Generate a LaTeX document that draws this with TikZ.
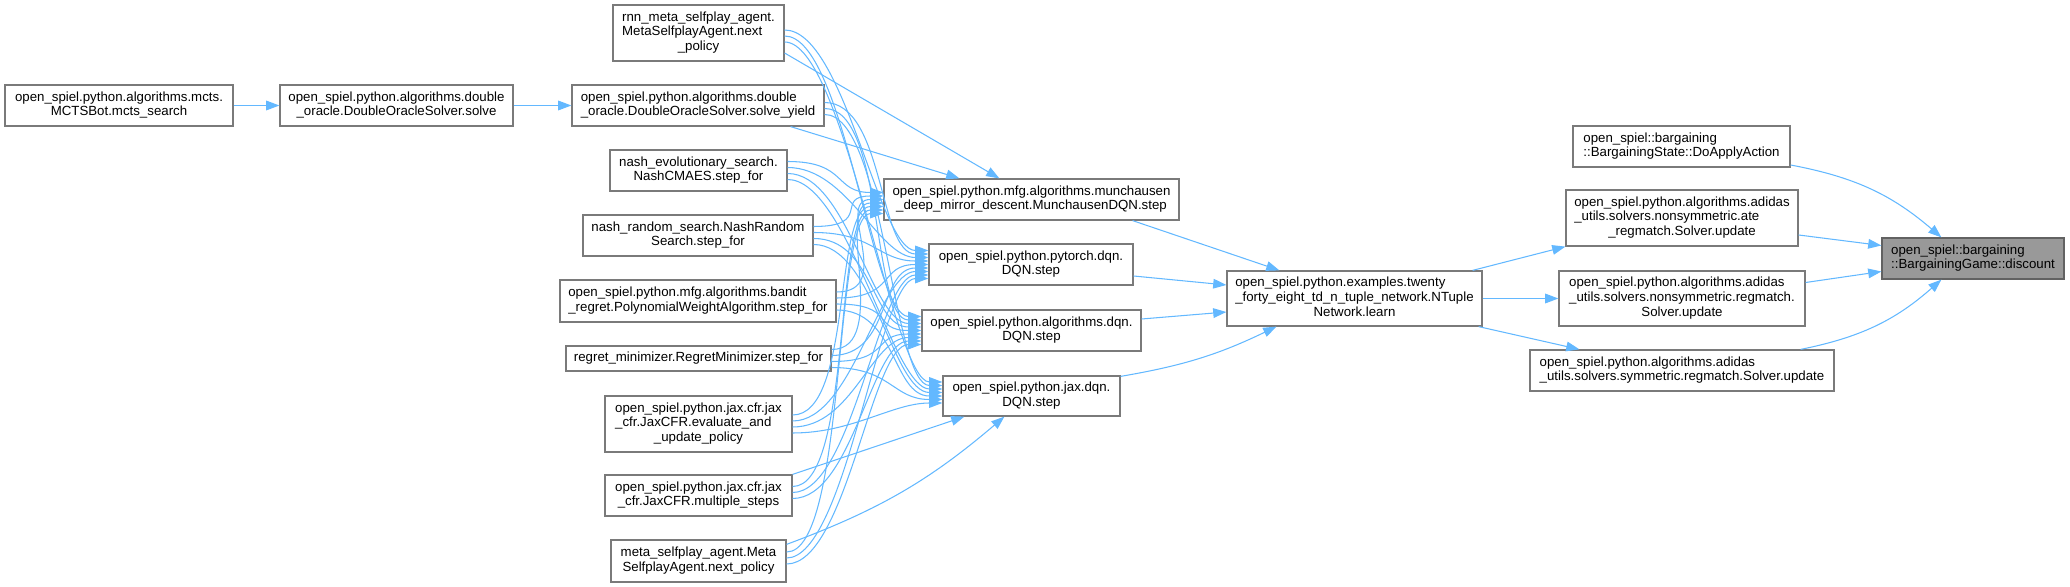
\documentclass[tikz,border=0pt]{standalone}
\usepackage{fontspec}
\setmainfont{Liberation Sans}
\usetikzlibrary{arrows.meta,calc}
\definecolor{dxedge}{HTML}{63B8FF}
\definecolor{dxgray}{HTML}{7A7A7A}
\definecolor{dxfill}{HTML}{999999}
\newcommand{\fnlines}[1]{\begin{tabular}{@{}l@{}}#1\end{tabular}}
\newcommand{\lastln}[1]{\multicolumn{1}{@{}c@{}}{#1}}

\begin{document}
\begin{tikzpicture}[
  x=0.02cm, y=-0.02cm,
  font=\fontsize{7.55}{8.5}\selectfont,
  fn/.style={draw=dxgray, line width=0.7pt, fill=white, inner sep=0pt},
  focus/.style={fn, fill=dxfill, draw=dxgray!80!black},
  sz/.style 2 args={minimum width=#1*0.02cm, minimum height=#2*0.02cm},
  arr/.style={-{Triangle[length=7.5pt,width=5.5pt]}, line width=0.6pt, dxedge},
]
\useasboundingbox (0,0) rectangle (2070,587);

% callers, far left
\node[fn, sz={228}{41}] (mcts) at (119,105.5) {\fnlines{open\_spiel.python.algorithms.mcts.\\\lastln{MCTSBot.mcts\_search}}};
\node[fn, sz={233}{41}] (solve) at (396.5,105.5) {\fnlines{open\_spiel.python.algorithms.double\\\lastln{\_oracle.DoubleOracleSolver.solve}}};

% left column
\node[fn, sz={171}{56}] (rnn) at (698.5,33) {\fnlines{rnn\_meta\_selfplay\_agent.\\MetaSelfplayAgent.next\\\lastln{\_policy}}};
\node[fn, sz={252}{41}] (yield) at (698,105.5) {\fnlines{open\_spiel.python.algorithms.double\\\lastln{\_oracle.DoubleOracleSolver.solve\_yield}}};
\node[fn, sz={177}{41}] (nevo) at (698.5,170.5) {\fnlines{nash\_evolutionary\_search.\\\lastln{NashCMAES.step\_for}}};
\node[fn, sz={230}{41}] (nrand) at (698,235.5) {\fnlines{nash\_random\_search.NashRandom\\\lastln{Search.step\_for}}};
\node[fn, sz={276}{42}] (bandit) at (698,301) {\fnlines{open\_spiel.python.mfg.algorithms.bandit\\\lastln{\_regret.PolynomialWeightAlgorithm.step\_for}}};
\node[fn, sz={265}{25}] (regmin) at (698.5,358.5) {regret\_minimizer.RegretMinimizer.step\_for};
\node[fn, sz={187}{56}] (eval) at (698.5,424) {\fnlines{open\_spiel.python.jax.cfr.jax\\\_cfr.JaxCFR.evaluate\_and\\\lastln{\_update\_policy}}};
\node[fn, sz={187}{41}] (msteps) at (698.5,495.5) {\fnlines{open\_spiel.python.jax.cfr.jax\\\lastln{\_cfr.JaxCFR.multiple\_steps}}};
\node[fn, sz={175}{42}] (meta) at (698.5,561) {\fnlines{meta\_selfplay\_agent.Meta\\\lastln{SelfplayAgent.next\_policy}}};

% dqn steps
\node[fn, sz={295}{41}] (munch) at (1031.5,199.5) {\fnlines{open\_spiel.python.mfg.algorithms.munchausen\\\lastln{\_deep\_mirror\_descent.MunchausenDQN.step}}};
\node[fn, sz={204}{41}] (torchdqn) at (1031,264.5) {\fnlines{open\_spiel.python.pytorch.dqn.\\\lastln{DQN.step}}};
\node[fn, sz={219}{41}] (algdqn) at (1031.5,330.5) {\fnlines{open\_spiel.python.algorithms.dqn.\\\lastln{DQN.step}}};
\node[fn, sz={177}{40}] (jaxdqn) at (1031.5,396) {\fnlines{open\_spiel.python.jax.dqn.\\\lastln{DQN.step}}};

\node[fn, sz={255}{55}] (learn) at (1354.5,298.5) {\fnlines{open\_spiel.python.examples.twenty\\\_forty\_eight\_td\_n\_tuple\_network.NTuple\\\lastln{Network.learn}}};

% solvers
\node[fn, sz={217}{41}] (doapply) at (1681.5,146.5) {\fnlines{open\_spiel::bargaining\\\lastln{::BargainingState::DoApplyAction}}};
\node[fn, sz={232}{56}] (ate) at (1682,218) {\fnlines{open\_spiel.python.algorithms.adidas\\\_utils.solvers.nonsymmetric.ate\\\lastln{\_regmatch.Solver.update}}};
\node[fn, sz={246}{55}] (nonsym) at (1682,298.5) {\fnlines{open\_spiel.python.algorithms.adidas\\\_utils.solvers.nonsymmetric.regmatch.\\\lastln{Solver.update}}};
\node[fn, sz={304}{41}] (sym) at (1682,370.5) {\fnlines{open\_spiel.python.algorithms.adidas\\\lastln{\_utils.solvers.symmetric.regmatch.Solver.update}}};

\node[focus, sz={182}{41}] (discount) at (1973,258.5) {\fnlines{open\_spiel::bargaining\\\lastln{::BargainingGame::discount}}};

\draw[arr] (mcts) -- (solve);
\draw[arr] (solve) -- (yield);
% every caller reaches every dqn step; four of them come in from top / bottom
\foreach \s [count=\i] in {rnn,yield,nevo,nrand,bandit,regmin,eval,msteps,meta}
  \foreach \t [count=\j] in {munch,torchdqn,algdqn,jaxdqn} {
    \ifnum\i\j=11 \else\ifnum\i\j=21 \else\ifnum\i\j=84 \else\ifnum\i\j=94 \else
    \draw[arr] ($(\s.east)+(0,{(\j-2.5)*6})$) .. controls +(60,0) and +(-50,0) .. ($(\t.west)+(0,{(\i-5)*3.5})$);
    \fi\fi\fi\fi
  }
\draw[arr] ($(rnn.east)+(0,20)$) -- ($(munch.north west)+(116,0)$);
\draw[arr] ($(yield.south east)+(-34,0)$) -- ($(munch.north west)+(76,0)$);
\draw[arr] (msteps.north east) -- ($(jaxdqn.south west)+(22,0)$);
\draw[arr] ($(meta.north east)+(0,5)$) to[bend right=10] ($(jaxdqn.south west)+(62,0)$);

\draw[arr] ($(munch.south east)+(-47,0)$) -- ($(learn.north west)+(53,0)$);
\draw[arr] ($(torchdqn.east)+(0,11.5)$) -- ($(learn.west)+(0,-13.5)$);
\draw[arr] ($(algdqn.east)+(0,-11.5)$) -- ($(learn.west)+(0,13.5)$);
\draw[arr] ($(jaxdqn.north east)+(0,1)$) to[bend right=8] ($(learn.south west)+(50,0)$);

\draw[arr] ($(learn.north east)+(-10,0)$) -- (ate.south west);
\draw[arr] (learn) -- (nonsym);
\draw[arr] ($(learn.south east)+(-4,0)$) -- ($(sym.north west)+(50,0)$);

\draw[arr] ($(doapply.east)+(0,18.5)$) to[bend left=15] ($(discount.north west)+(60,0)$);
\draw[arr] ($(ate.east)+(0,17)$) -- ($(discount.west)+(0,-13)$);
\draw[arr] ($(nonsym.east)+(0,-16)$) -- ($(discount.west)+(0,13)$);
\draw[arr] ($(sym.north east)+(-34,0)$) to[bend right=15] ($(discount.south west)+(60,0)$);
\end{tikzpicture}
\end{document}
